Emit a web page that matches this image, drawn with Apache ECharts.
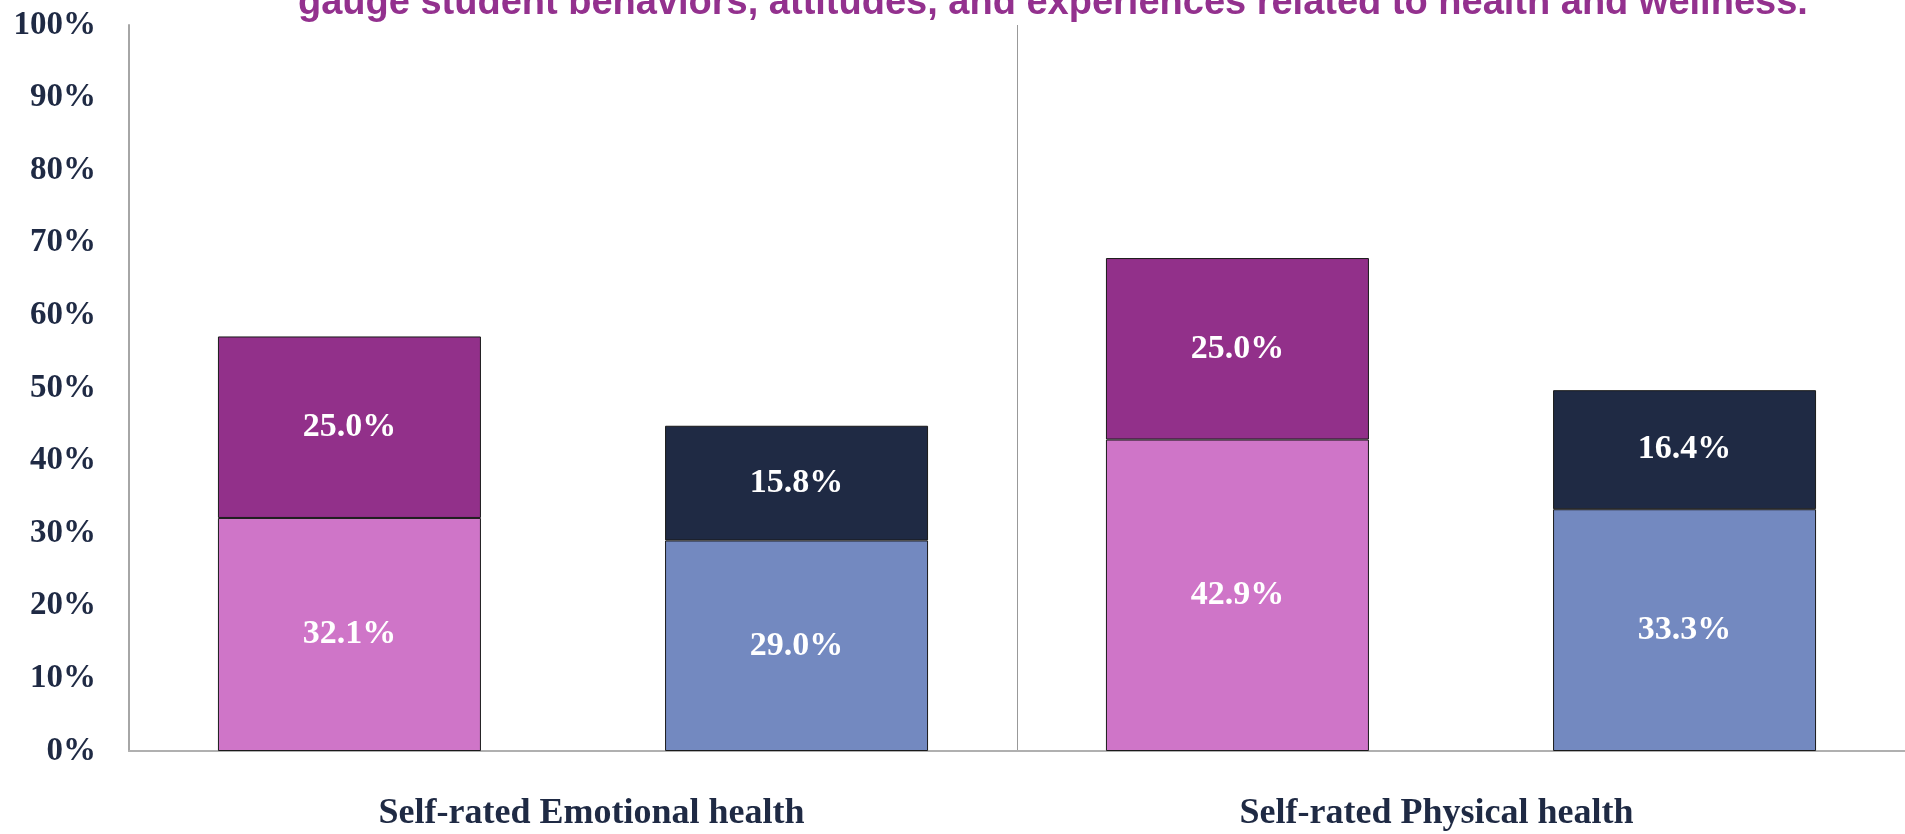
<!DOCTYPE html>
<html>
<head>
<meta charset="utf-8">
<script src="https://cdn.jsdelivr.net/npm/echarts@6/dist/echarts.min.js"></script>
<style>
html,body{margin:0;padding:0;background:#fff;}
#main{width:1905px;height:834px;}
</style>
</head>
<body>
<div id="main"></div>
<script>
// categories + stacked values (percent)
var categories = ['Self-rated Emotional health', 'Self-rated Physical health'];
var femaleLower = [32.1, 42.9];
var femaleUpper = [25.0, 25.0];
var maleLower = [29.0, 33.3];
var maleUpper = [15.8, 16.4];
var yTicks = [0, 10, 20, 30, 40, 50, 60, 70, 80, 90, 100];

var titleText = 'gauge student behaviors, attitudes, and experiences related to health and wellness.';

var myChart = echarts.init(document.getElementById('main'));

var serif = '"Liberation Serif", "DejaVu Serif", serif';

function segLabel(){
    return {
        show: true,
        position: 'inside',
        color: '#fff',
        fontFamily: serif,
        fontWeight: 'bold',
        fontSize: 34,
        formatter: function(p){ return p.value.toFixed(1) + '%'; }
    };
}

function mkSeries(name, stack, data, color){
    return {
        name: name,
        type: 'bar',
        stack: stack,
        data: data,
        barWidth: 263,
        barGap: '70%',
        itemStyle: {color: color, borderColor: '#1a1a1a', borderWidth: 1},
        label: segLabel(),
        emphasis: {disabled: true}
    };
}

var option = {
    animation: false,
    backgroundColor: '#fff',
    title: {
        text: titleText,
        left: 293,
        top: -20,
        textStyle: {
            color: '#93318E',
            fontFamily: '"Liberation Sans Narrow", "Liberation Sans", sans-serif',
            fontWeight: 'bold',
            fontSize: 38
        }
    },
    grid: {
        left: 129,
        width: 1781,
        top: 25,
        bottom: 83,
        containLabel: false
    },
    xAxis: {
        type: 'category',
        data: categories,
        axisLine: {show: true, lineStyle: {color: '#b0b0b0', width: 2}},
        axisTick: {show: false},
        splitLine: {show: true, lineStyle: {color: '#999', width: 1}},
        axisLabel: {
            margin: 45,
            color: '#1F2A44',
            fontFamily: serif,
            fontWeight: 'bold',
            fontSize: 36,
            formatter: function(v, i){
                return i === 0 ? '{a|' + v + '}' : '{b|' + v + '}';
            },
            rich: {
                a: {padding: [0, 0, 0, 37], color: '#1F2A44', fontFamily: serif, fontWeight: 'bold', fontSize: 36},
                b: {padding: [0, 49, 0, 0], color: '#1F2A44', fontFamily: serif, fontWeight: 'bold', fontSize: 36}
            }
        }
    },
    yAxis: {
        type: 'value',
        min: yTicks[0],
        max: yTicks[yTicks.length - 1],
        interval: 10,
        axisLine: {show: true, lineStyle: {color: '#a6a6a6', width: 2}},
        axisTick: {show: false},
        splitLine: {show: false},
        axisLabel: {
            margin: 33,
            color: '#1F2A44',
            fontFamily: serif,
            fontWeight: 'bold',
            fontSize: 33,
            formatter: '{value}%'
        }
    },
    series: [
        mkSeries('Female (lower)', 'female', femaleLower, '#CF75C8'),
        mkSeries('Female (upper)', 'female', femaleUpper, '#92308A'),
        mkSeries('Male (lower)', 'male', maleLower, '#7389C0'),
        mkSeries('Male (upper)', 'male', maleUpper, '#1F2A44')
    ]
};

if (option && typeof option === 'object') {
    myChart.setOption(option, true);
}
</script>
</body>
</html>
